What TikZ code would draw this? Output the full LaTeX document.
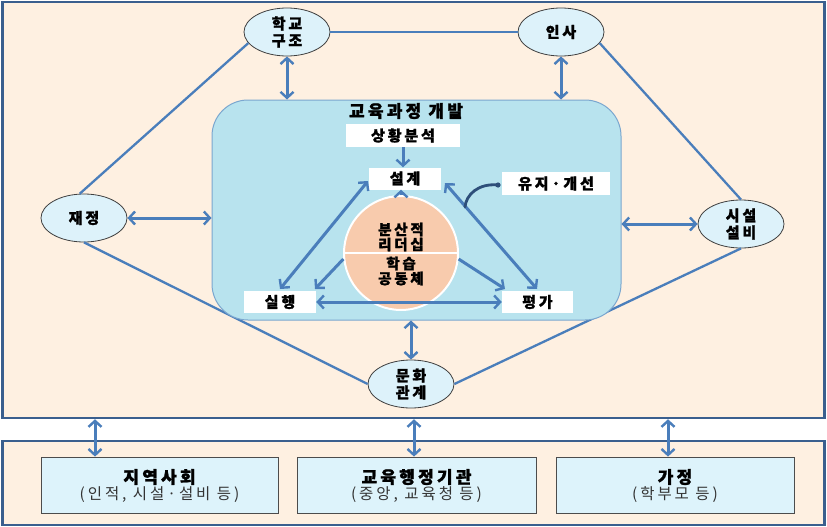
\documentclass[tikz,border=0pt]{standalone}
\usepackage{fontspec}
\setmainfont{Noto Sans CJK KR}[LetterSpace=19,BoldFeatures={FakeBold=1.3}]
\usetikzlibrary{shapes.geometric,arrows.meta}
\definecolor{peach}{HTML}{FEF0E1}
\definecolor{frame}{HTML}{3A5F8E}
\definecolor{ellfill}{HTML}{DDF2FA}
\definecolor{devfill}{HTML}{B8E3EE}
\definecolor{devline}{HTML}{7BA7CF}
\definecolor{circfill}{HTML}{F8CBAD}
\definecolor{arr}{HTML}{4A7EBB}
\definecolor{hook}{HTML}{2E4F7A}
\definecolor{boxfill}{HTML}{DDF3FB}
\tikzset{
  ell/.style={ellipse, draw=black!75, line width=0.8pt, fill=ellfill, minimum width=86pt, minimum height=48pt, inner sep=0pt, font=\bfseries\fontsize{15}{17}\selectfont, align=center},
  wbox/.style={fill=white, inner sep=0pt, font=\bfseries\fontsize{15}{16}\selectfont},
  link/.style={draw=arr, line width=2.3pt},
  dbl/.style={draw=arr, line width=3pt, {Straight Barb[length=6pt,width=13pt,line width=2.4pt]}-{Straight Barb[length=6pt,width=13pt,line width=2.4pt]}},
  sgl/.style={draw=arr, line width=3pt, -{Straight Barb[length=6pt,width=13pt,line width=2.4pt]}},
  bbox/.style={draw=black!70, line width=0.8pt, fill=boxfill, minimum width=237pt, minimum height=56pt, inner sep=0pt, align=center},
}
\begin{document}
\begin{tikzpicture}[x=1pt,y=-1pt]
\useasboundingbox (0,0) rectangle (827,527);
\fill[white] (0,0) rectangle (827,527);
% outer frames
\node[draw=frame, line width=2.5pt, fill=peach, minimum width=822pt, minimum height=416pt, inner sep=0pt] (top) at (413.5,210) {};
\node[draw=frame, line width=2.5pt, fill=peach, minimum width=822pt, minimum height=84pt, inner sep=0pt] (bot) at (413.5,483) {};
% ellipses
\node[ell] (hak) at (287,32) {학교\\구조};
\node[ell] (insa) at (561,32) {인사};
\node[ell] (jae) at (84,218) {재정};
\node[ell] (sis) at (741,224) {시설\\설비};
\node[ell] (mun) at (411,384) {문화\\관계};
% ellipse links
\draw[link] (hak.east) -- (insa.west);
\draw[link] (hak.196) -- (jae.100);
\draw[link] (insa.-16) -- (sis.90);
\draw[link] (jae.-90) -- (mun.180);
\draw[link] (sis.-90) -- (mun.0);
% development box
\node[draw=devline, line width=1pt, fill=devfill, rounded corners=36pt, minimum width=409pt, minimum height=220pt, inner sep=0pt] (dev) at (416.5,210) {};
\node[font=\bfseries\fontsize{17}{19}\selectfont] (title) at (406,111) {교육과정 개발};
\node[wbox, minimum width=114pt, minimum height=23pt] (sit) at (403,135.5) {상황분석};
\node[wbox, minimum width=72pt, minimum height=22pt] (des) at (405,178.5) {설계};
\node[wbox, minimum width=108pt, minimum height=23pt] (keep) at (556,183.5) {유지·개선};
\node[wbox, minimum width=72pt, minimum height=22pt] (run) at (280,302) {실행};
\node[wbox, minimum width=71pt, minimum height=22pt] (eva) at (537.5,302) {평가};
\node[circle, fill=circfill, draw=white, line width=2pt, minimum size=114pt, inner sep=0pt] (circ) at (401,253) {};
\draw[white, line width=2pt] (circ.west) -- (circ.east);
\node[font=\bfseries\fontsize{14.5}{15}\selectfont, align=center] (lead) at (401,237) {분산적\\리더십};
\node[font=\bfseries\fontsize{14.5}{15}\selectfont, align=center] (comm) at (401,271) {학습\\공동체};
% arrows inside
\draw[sgl] (sit.south) -- (des.north -| sit.south);
\draw[sgl] (circ.north) -- (des.south -| circ.north);
\coordinate (dL) at (368,181);
\coordinate (rT) at (280,289);
\draw[dbl] (dL) -- (rT);
\coordinate (dR) at (445,183);
\coordinate (eT) at (537,289);
\draw[dbl] (dR) -- (eT);
\draw[sgl] (circ.186) -- (315,289);
\draw[sgl] (circ.-6) -- (505,289);
\draw[dbl] (run.east) -- (eva.west);
% hook
\coordinate (hs) at (498,185);
\coordinate (he) at (465,207);
\fill[hook] (hs) circle (2.6pt);
\draw[hook, line width=2.8pt, line cap=round] (hs) .. controls (478,183) and (466,195) .. (he);
% arrows between ellipses and box
\draw[dbl] (hak.south) -- (hak.south |- dev.north);
\draw[dbl] (insa.south) -- (insa.south |- dev.north);
\draw[dbl] (jae.east) -- (dev.west |- jae.east);
\draw[dbl] (sis.west) -- (dev.east |- sis.west);
\draw[dbl] (mun.north) -- (mun.north |- dev.south);
% bottom boxes
\node[bbox] (com) at (159.5,485) {};
\node[bbox, minimum width=239pt] (adm) at (416.5,485) {};
\node[bbox, minimum width=238pt] (home) at (675,485) {};
\node[font=\bfseries\fontsize{17}{19}\selectfont] at (159.5,477) {지역사회};
\node[font=\fontsize{15.5}{17}\selectfont, text=black!80] at (159.5,495) {(인적, 시설·설비 등)};
\node[font=\bfseries\fontsize{17}{19}\selectfont] at (416.5,477) {교육행정기관};
\node[font=\fontsize{15.5}{17}\selectfont, text=black!80] at (416.5,495) {(중앙, 교육청 등)};
\node[font=\bfseries\fontsize{17}{19}\selectfont] at (675,477) {가정};
\node[font=\fontsize{15.5}{17}\selectfont, text=black!80] at (675,495) {(학부모 등)};
% vertical link arrows
\draw[dbl] (top.south -| 95,0) -- (com.north -| 95,0);
\draw[dbl] (top.south -| 414,0) -- (adm.north -| 414,0);
\draw[dbl] (top.south -| 668,0) -- (home.north -| 668,0);
\end{tikzpicture}
\end{document}
